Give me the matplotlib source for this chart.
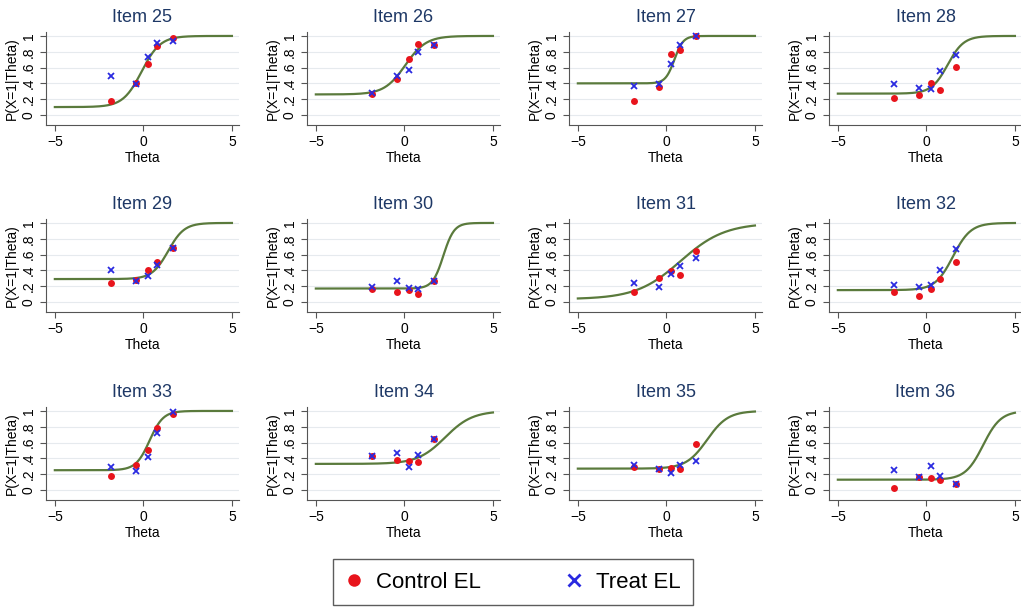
import numpy as np
import matplotlib
matplotlib.use('Agg')
import matplotlib.pyplot as plt
from matplotlib.lines import Line2D

plt.rcParams['font.family'] = ['Liberation Sans', 'DejaVu Sans']

items = [25, 26, 27, 28, 29, 30, 31, 32, 33, 34, 35, 36]
theta_pts = [-1.85, -0.4, 0.27, 0.78, 1.7]

# 3PL item parameters (discrimination, difficulty, guessing)
a_par = [1.9, 1.7, 4.0, 2.2, 2.2, 3.3, 0.8, 2.0, 2.6, 1.3, 1.7, 2.0]
b_par = [-0.1, 0.05, 0.45, 1.2, 1.4, 2.2, 0.8, 1.5, 0.35, 2.3, 2.3, 3.2]
c_par = [0.10, 0.26, 0.40, 0.27, 0.29, 0.17, 0.035, 0.15, 0.25, 0.33, 0.27, 0.13]

control = [
    [0.18, 0.40, 0.65, 0.87, 0.98],
    [0.26, 0.45, 0.71, 0.90, 0.88],
    [0.18, 0.36, 0.77, 0.82, 1.00],
    [0.21, 0.25, 0.40, 0.32, 0.61],
    [0.24, 0.28, 0.41, 0.50, 0.68],
    [0.16, 0.13, 0.15, 0.10, 0.27],
    [0.12, 0.30, 0.39, 0.34, 0.65],
    [0.13, 0.08, 0.17, 0.29, 0.51],
    [0.18, 0.32, 0.51, 0.78, 0.96],
    [0.43, 0.38, 0.37, 0.36, 0.65],
    [0.29, 0.26, 0.28, 0.26, 0.58],
    [0.03, 0.16, 0.15, 0.12, 0.08],
]
treat = [
    [0.49, 0.39, 0.73, 0.91, 0.94],
    [0.28, 0.49, 0.57, 0.80, 0.88],
    [0.37, 0.39, 0.64, 0.89, 1.00],
    [0.39, 0.34, 0.33, 0.56, 0.76],
    [0.41, 0.26, 0.33, 0.47, 0.68],
    [0.19, 0.27, 0.18, 0.17, 0.27],
    [0.24, 0.19, 0.35, 0.46, 0.56],
    [0.22, 0.19, 0.21, 0.40, 0.67],
    [0.29, 0.24, 0.42, 0.72, 0.99],
    [0.43, 0.47, 0.29, 0.44, 0.64],
    [0.32, 0.26, 0.22, 0.31, 0.37],
    [0.25, 0.16, 0.30, 0.18, 0.08],
]

W, H = 1021, 614
fig = plt.figure(figsize=(W / 100, H / 100), dpi=100)
fig.patch.set_facecolor('white')

col_left = [46, 307, 569, 829]
row_top = [32, 219, 407]
ax_w, ax_h = 193, 93

th = np.linspace(-5, 5, 300)
yt = [0, 0.2, 0.4, 0.6, 0.8, 1]
ytl = ['0', '.2', '.4', '.6', '.8', '1']

for k, item in enumerate(items):
    r, c = k // 4, k % 4
    ax = fig.add_axes([col_left[c] / W, 1 - (row_top[r] + ax_h) / H, ax_w / W, ax_h / H])
    p = c_par[k] + (1 - c_par[k]) / (1 + np.exp(-a_par[k] * (th - b_par[k])))
    ax.plot(th, p, color='#5a7a3c', lw=1.6, zorder=3)
    ax.plot(theta_pts, control[k], 'o', color='#e8141c', ms=5, mec='none', zorder=4)
    ax.plot(theta_pts, treat[k], 'x', color='#2a2ae0', ms=4, mew=1.3, zorder=5)
    ax.set_xlim(-5.5, 5.4)
    ax.set_ylim(-0.127, 1.05)
    ax.set_xticks([-5, 0, 5])
    ax.set_yticks(yt)
    ax.set_yticklabels(ytl, rotation=90, va='center')
    ax.tick_params(labelsize=10, color='#555555', length=4)
    for y in yt:
        ax.axhline(y, color='#e6eaee', lw=0.8, zorder=1)
    for s in ['top', 'right']:
        ax.spines[s].set_visible(False)
    for s in ['left', 'bottom']:
        ax.spines[s].set_color('#555555')
    ax.set_xlabel('Theta', fontsize=10, labelpad=1)
    ax.set_ylabel('P(X=1|Theta)', fontsize=10, labelpad=2)
    ax.set_title('Item %d' % item, fontsize=13, color='#1e3866', pad=7)

handles = [
    Line2D([], [], marker='o', ls='none', color='#e8141c', ms=9, mec='none'),
    Line2D([], [], marker='x', ls='none', color='#2a2ae0', ms=8, mew=2),
]
leg = fig.legend(handles, ['Control EL', 'Treat EL'], loc='center', ncol=2,
                 bbox_to_anchor=(513 / W, 1 - 582 / H), fontsize=16, frameon=True,
                 fancybox=False, edgecolor='#333333', handlelength=0.8,
                 handletextpad=0.6, columnspacing=3.8, borderpad=0.55)
leg.get_frame().set_linewidth(1.0)

fig.savefig('out.png', dpi=100)
